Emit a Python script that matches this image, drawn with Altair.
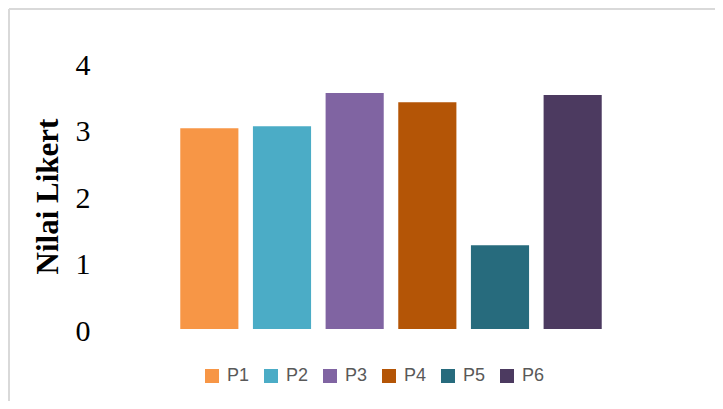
import altair as alt
import pandas as pd

categories = ["P1", "P2", "P3", "P4", "P5", "P6"]
values = [3.02, 3.05, 3.55, 3.41, 1.26, 3.52]
colors = ["#F79646", "#4BACC6", "#8064A2", "#B45506", "#276B7D", "#4C3A60"]
y_ticks = [0, 1, 2, 3, 4]

df = pd.DataFrame({"Pertanyaan": categories, "Nilai": values})

PAD_L, PAD_T, PAD_R, PAD_B = 165, 55, 106, 72
W, H = 436, 266

bars = alt.Chart(df).mark_bar().encode(
    x=alt.X("Pertanyaan:N", sort=categories, axis=None,
            scale=alt.Scale(paddingInner=0.2, paddingOuter=0.1)),
    y=alt.Y("Nilai:Q",
            scale=alt.Scale(domain=[0, 4], nice=False),
            axis=alt.Axis(values=y_ticks, title="Nilai Likert", domain=False, ticks=False,
                          grid=False, labelFont="Liberation Serif", labelFontSize=30,
                          labelColor="#000000", labelPadding=83, labelOffset=2,
                          titleFont="Liberation Serif", titleFontSize=31,
                          titleFontWeight="bold", titleColor="#000000",
                          titleX=-125, titleY=133, titleAngle=270,
                          titleAlign="center", titleBaseline="middle")),
    color=alt.Color("Pertanyaan:N", sort=categories,
                    scale=alt.Scale(domain=categories, range=colors),
                    legend=alt.Legend(title=None, orient="none", direction="horizontal",
                                      legendX=30, legendY=304, symbolType="square",
                                      symbolSize=196, symbolStrokeWidth=0,
                                      labelFont="Liberation Sans", labelFontSize=18,
                                      labelColor="#595959", labelOffset=6,
                                      columnPadding=12, padding=0)),
)

frame = alt.Data(values=[{}])
left_edge = alt.Chart(frame).mark_rule(stroke="#D9D9D9", strokeWidth=2).encode(
    x=alt.value(-PAD_L + 1),
    y=alt.value(-PAD_T + 1), y2=alt.value(H + PAD_B),
)
top_edge = alt.Chart(frame).mark_rule(stroke="#D9D9D9", strokeWidth=2).encode(
    y=alt.value(-PAD_T + 1),
    x=alt.value(-PAD_L + 1), x2=alt.value(W + PAD_R),
)

chart = alt.layer(left_edge, top_edge, bars).properties(
    width=W, height=H,
    autosize=alt.AutoSizeParams(type="none"),
    padding={"left": PAD_L, "top": PAD_T, "right": PAD_R, "bottom": PAD_B},
).configure_view(stroke=None)

chart.save("out.html", embed_options={"renderer": "svg", "actions": False})
